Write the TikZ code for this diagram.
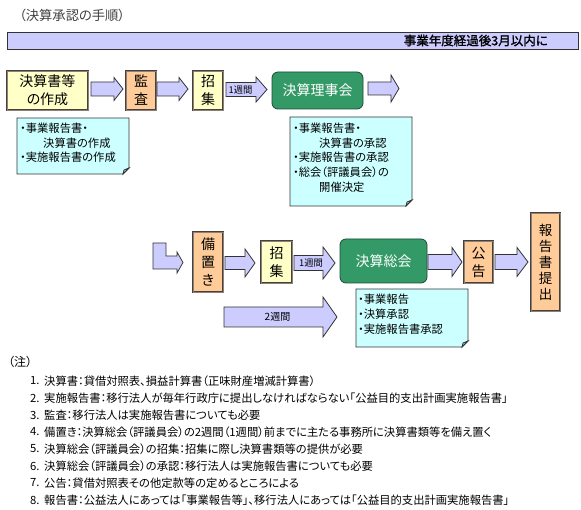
\documentclass[tikz,border=0pt]{standalone}
\usepackage{fontspec}
\setmainfont{Noto Sans CJK JP}[RawFeature=+palt, AutoFakeBold=1.5]
\definecolor{lav}{HTML}{CCCCFF}
\definecolor{yelfill}{HTML}{FFFFC8}
\definecolor{orgfill}{HTML}{FFCC99}
\definecolor{greenfill}{HTML}{339966}
\definecolor{greenline}{HTML}{1E4A33}
\definecolor{cyanfill}{HTML}{CCFFFF}
\definecolor{foldc}{HTML}{99CCCC}
\definecolor{boxline}{HTML}{4A4038}
\definecolor{boxmid}{HTML}{8A827A}
\definecolor{darkline}{HTML}{333333}
\newcommand\blockarr[6]{%
  \draw[arr] (#1,{#3-#4}) -- ({#2-#6},{#3-#4}) -- ({#2-#6},{#3-#5}) -- (#2,#3)
    -- ({#2-#6},{#3+#5}) -- ({#2-#6},{#3+#4}) -- (#1,{#3+#4}) -- cycle;}
\newcommand\notebox[4]{%
  \draw[note] (#1,#2) -- (#3,#2) -- (#3,{#4-6}) -- ({#3-6},#4) -- (#1,#4) -- cycle;
  \draw[note, fill=foldc] ({#3-6},#4) -- (#3,{#4-6}) -- ({#3-5},{#4-4}) -- cycle;}
\begin{document}
\begin{tikzpicture}[x=1pt,y=-1pt,
  box/.style={draw=boxline, double=boxmid, line width=1pt, double distance=0.9pt,
    inner sep=0pt, align=center, font=\fontsize{14}{18}\selectfont},
  yel/.style={box, fill=yelfill},
  org/.style={box, fill=orgfill},
  meet/.style={draw=greenline, fill=greenfill, rounded corners=6pt, text=white,
    line width=0.8pt, inner sep=0pt, font=\fontsize{14}{18}\selectfont},
  arr/.style={draw=darkline, fill=lav, line width=0.8pt, line join=miter},
  note/.style={draw=darkline, fill=cyanfill, line width=0.8pt, line join=miter},
  ntext/.style={anchor=west, inner sep=0pt, font=\fontsize{11.3}{13}\selectfont},
  atext/.style={inner sep=0pt, font=\fontsize{9.3}{11}\selectfont},
  ltext/.style={anchor=west, inner sep=0pt, font=\fontsize{11.3}{13}\selectfont}]
\useasboundingbox (0,0) rectangle (581,510);

% title and banner
\node[anchor=west, inner sep=0pt, text=black!75, font=\fontsize{13.3}{15}\selectfont] (title) at (19,15) {（決算承認の手順）};
\node[draw=darkline, fill=lav, line width=1pt, minimum width=571pt, minimum height=17pt,
  anchor=north west, inner sep=0pt] (bar) at (7,32) {};
\node[anchor=east, inner sep=0pt, font=\bfseries\fontsize{12.5}{14}\selectfont] (bartext) at (548,40.5) {事業年度経過後3月以内に};

% row 1
\node[yel, minimum width=81pt, minimum height=39pt] (b1) at (47.5,90.5) {決算書等\\の作成};
\blockarr{91}{123}{89}{7}{11.5}{9}
\node[org, minimum width=30pt, minimum height=39pt] (b2) at (141,90.5) {監\\査};
\blockarr{157}{188}{89}{7}{11.5}{9}
\node[yel, minimum width=30pt, minimum height=39pt] (b3) at (208,90.5) {招\\集};
\blockarr{226}{267}{89.5}{7}{12.5}{11}
\node[atext] (w1) at (240.5,90) {1週間};
\node[meet, minimum width=91pt, minimum height=37pt] (g1) at (317.5,90.5) {決算理事会};
\blockarr{368}{399}{88.5}{6.5}{13.5}{8}

% notes row 1
\notebox{17}{118}{129}{174}
\node[ntext] (n1a) at (20,128) {・事業報告書・};
\node[ntext] (n1b) at (43,143) {決算書の作成};
\node[ntext] (n1c) at (20,157) {・実施報告書の作成};

\notebox{290}{117}{412}{206}
\node[ntext] (n2a) at (293,128) {・事業報告書・};
\node[ntext] (n2b) at (319,143) {決算書の承認};
\node[ntext] (n2c) at (293,157) {・実施報告書の承認};
\node[ntext] (n2d) at (293,172) {・総会（評議員会）の};
\node[ntext] (n2e) at (319,187) {開催決定};

% row 2
\draw[arr] (153,243) -- (166,243) -- (166,256) -- (177,256) -- (177,252) -- (183,262.5)
  -- (177,273) -- (177,269) -- (153,269) -- cycle;
\node[org, minimum width=30pt, minimum height=60pt] (b4) at (208,262) {備\\置\\き};
\blockarr{225}{255}{263}{6.5}{14}{10}
\node[yel, minimum width=31pt, minimum height=42pt] (b5) at (276.5,262) {招\\集};
\blockarr{294}{335}{263}{7.5}{16}{12}
\node[atext] (w2) at (311,263) {1週間};
\node[meet, minimum width=87pt, minimum height=44pt] (g2) at (383.5,261) {決算総会};
\blockarr{428}{462}{262}{7.5}{14.5}{10}
\node[org, minimum width=29pt, minimum height=42pt] (b6) at (478.5,262) {公\\告};
\blockarr{495}{528}{262}{7.5}{14.5}{11}
\node[org, minimum width=29pt, minimum height=98pt, font=\fontsize{13.5}{16}\selectfont] (b7) at (545.5,262) {報\\告\\書\\提\\出};

\blockarr{224}{337}{317}{10}{20}{14}
\node[atext, font=\fontsize{10}{12}\selectfont] (w3) at (277.5,317) {2週間};

\notebox{356}{289}{468}{347}
\node[ntext] (n3a) at (358,299) {・事業報告};
\node[ntext] (n3b) at (358,314) {・決算承認};
\node[ntext] (n3c) at (358,329) {・実施報告書承認};

% legend
\node[anchor=west, inner sep=0pt, font=\fontsize{12}{14}\selectfont] (chu) at (8,362) {（注）};
\foreach \i/\t in {
 1/{決算書：貸借対照表、損益計算書（正味財産増減計算書）},
 2/{実施報告書：移行法人が毎年行政庁に提出しなければならない「公益目的支出計画実施報告書」},
 3/{監査：移行法人は実施報告書についても必要},
 4/{備置き：決算総会（評議員会）の2週間（1週間）前までに主たる事務所に決算書類等を備え置く},
 5/{決算総会（評議員会）の招集：招集に際し決算書類等の提供が必要},
 6/{決算総会（評議員会）の承認：移行法人は実施報告書についても必要},
 7/{公告：貸借対照表その他定款等の定めるところによる},
 8/{報告書：公益法人にあっては「事業報告等」、移行法人にあっては「公益目的支出計画実施報告書」}}
{
 \node[ltext] (num\i) at (30,{381+17*(\i-1)}) {\i.};
 \node[ltext] (line\i) at (44,{381+17*(\i-1)}) {\t};
}
\end{tikzpicture}
\end{document}
